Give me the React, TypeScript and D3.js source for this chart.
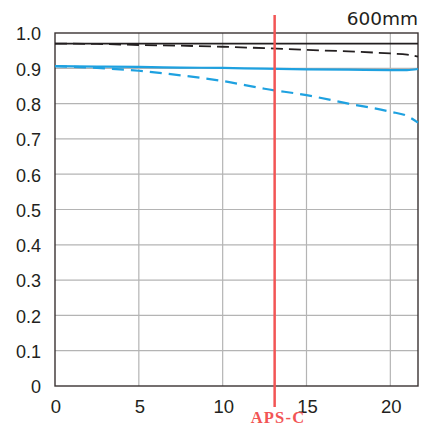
import React from "react";
import * as d3 from "d3";

const positions = [0, 2.5, 5, 7.5, 10, 12.5, 15, 17.5, 20, 21, 21.65];
const blackSolid = [0.970, 0.970, 0.970, 0.970, 0.970, 0.970, 0.970, 0.970, 0.970, 0.970, 0.970];
const blackDashed = [0.970, 0.969, 0.966, 0.964, 0.961, 0.957, 0.952, 0.948, 0.942, 0.939, 0.933];
const blueSolid = [0.906, 0.905, 0.904, 0.902, 0.901, 0.899, 0.897, 0.896, 0.895, 0.895, 0.898];
const blueDashed = [0.906, 0.901, 0.893, 0.880, 0.864, 0.842, 0.824, 0.800, 0.777, 0.765, 0.746];
const xTicks = [0, 5, 10, 15, 20];
const yTicks = [0, 0.1, 0.2, 0.3, 0.4, 0.5, 0.6, 0.7, 0.8, 0.9, 1.0];
const yTickLabels = ["0", "0.1", "0.2", "0.3", "0.4", "0.5", "0.6", "0.7", "0.8", "0.9", "1.0"];
const apscPos = 13.1;
const focalLabel = "600mm";
const markerLabel = "APS-C";

export default function App() {
  const W = 432, H = 425;
  const x = d3.scaleLinear().domain([0, 21.65]).range([55, 418]);
  const y = d3.scaleLinear().domain([0, 1]).range([386, 33]);
  const line = (vals: number[]) =>
    d3.line<number>()
      .x((_, i) => x(positions[i]))
      .y((d) => y(d))
      .curve(d3.curveMonotoneX)(vals) as string;

  const grid = "#b4b4b4";
  const border = "#3a3232";
  const blue = "#1ea1e0";
  const font = "'Liberation Sans', Arial, sans-serif";

  return (
    <svg width={W} height={H} style={{ position: "absolute", left: 0, top: 0 }}>
      <rect x={0} y={0} width={W} height={H} fill="#fff" />
      {xTicks.filter((t) => t > 0).map((t) => (
        <line key={"gx" + t} x1={x(t)} x2={x(t)} y1={y(0)} y2={y(1)} stroke={grid} strokeWidth={1.2} />
      ))}
      {yTicks.filter((t) => t > 0 && t < 1).map((t) => (
        <line key={"gy" + t} x1={x(0)} x2={x(21.65)} y1={y(t)} y2={y(t)} stroke={grid} strokeWidth={1.2} />
      ))}
      <rect x={x(0)} y={y(1)} width={x(21.65) - x(0)} height={y(0) - y(1)} fill="none" stroke={border} strokeWidth={1.4} />

      <path d={line(blackSolid)} fill="none" stroke="#231f20" strokeWidth={1.6} />
      <path d={line(blackDashed)} fill="none" stroke="#231f20" strokeWidth={1.8} strokeDasharray="12 6" />
      <path d={line(blueSolid)} fill="none" stroke={blue} strokeWidth={2.2} />
      <path d={line(blueDashed)} fill="none" stroke={blue} strokeWidth={2.2} strokeDasharray="12 7" />

      {yTicks.map((t, i) => (
        <text key={"yl" + t} x={41} y={y(t) + 1} dy="0.35em" textAnchor="end" fontFamily={font} fontSize={18} fill="#231f20">
          {yTickLabels[i]}
        </text>
      ))}
      {xTicks.map((t) => (
        <text key={"xl" + t} x={x(t) + 1} y={413} textAnchor="middle" fontFamily={font} fontSize={18.5} fill="#231f20">
          {t}
        </text>
      ))}
      <text x={418} y={25} textAnchor="end" fontFamily="'DejaVu Sans', sans-serif" fontSize={18.5} fill="#231f20">
        {focalLabel}
      </text>

      <line x1={x(apscPos)} x2={x(apscPos)} y1={15} y2={407} stroke="#f25555" strokeWidth={2.5} />
      <text x={278} y={422.5} textAnchor="middle" fontFamily="'Liberation Serif', 'Times New Roman', serif" fontWeight="bold" fontSize={16.5} fill="#f25555" letterSpacing={1.2}>
        {markerLabel}
      </text>
    </svg>
  );
}
